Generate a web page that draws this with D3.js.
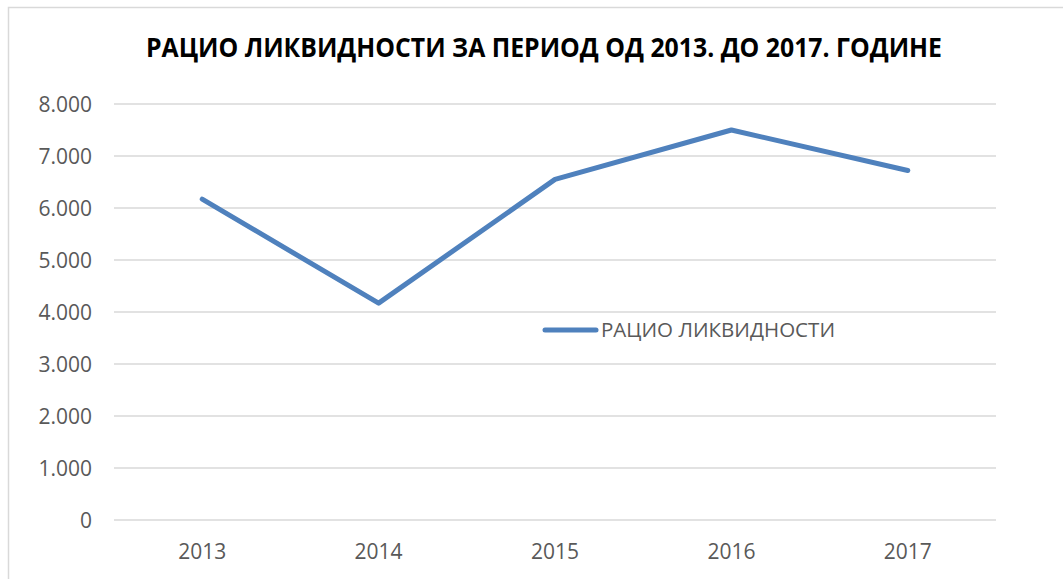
<!DOCTYPE html>
<html>
<head>
<meta charset="utf-8">
<script src="https://cdn.jsdelivr.net/npm/d3@7"></script>
<style>
  body { margin: 0; background: #fff; }
  svg { display: block; }
</style>
</head>
<body>
<svg id="chart" width="1063" height="579"></svg>
<script>
const years = ['2013', '2014', '2015', '2016', '2017']
const ratio = [6.17, 4.17, 6.55, 7.50, 6.72]
const yTicks = [0, 1, 2, 3, 4, 5, 6, 7, 8]
const title = 'РАЦИО ЛИКВИДНОСТИ ЗА ПЕРИОД ОД 2013. ДО 2017. ГОДИНЕ'
const seriesName = 'РАЦИО ЛИКВИДНОСТИ'

const svg = d3.select('#chart')
const font = '"Open Sans", "Noto Sans", sans-serif'
const titleFont = '"Liberation Sans Narrow", "Open Sans", sans-serif'
const m = { left: 114, right: 996, top: 104, bottom: 520 }

// рамка графика
svg.append('rect')
  .attr('x', 8.5).attr('y', 7.5)
  .attr('width', 1070).attr('height', 590)
  .attr('fill', '#fff').attr('stroke', '#d9d9d9').attr('stroke-width', 1.5)

const x = d3.scaleBand().domain(years).range([m.left, m.right])
const y = d3.scaleLinear().domain([0, 8]).range([m.bottom, m.top])

// мрежа
svg.append('g').selectAll('line').data(yTicks).join('line')
  .attr('x1', m.left).attr('x2', m.right)
  .attr('y1', d => y(d)).attr('y2', d => y(d))
  .attr('stroke', '#d9d9d9').attr('stroke-width', 1.3)

// ознаке на y оси
svg.append('g').selectAll('text').data(yTicks).join('text')
  .attr('x', 92).attr('y', d => y(d))
  .attr('dy', '0.36em')
  .attr('text-anchor', 'end')
  .attr('font-family', font).attr('font-size', 21)
  .attr('fill', '#595959')
  .text(d => d === 0 ? '0' : d3.format('.3f')(d))

// ознаке на x оси
svg.append('g').selectAll('text').data(years).join('text')
  .attr('x', d => x(d) + x.bandwidth() / 2).attr('y', 551)
  .attr('dy', '0.36em')
  .attr('text-anchor', 'middle')
  .attr('font-family', font).attr('font-size', 21)
  .attr('fill', '#595959')
  .text(d => d)

// линија
const line = d3.line()
  .x((d, i) => x(years[i]) + x.bandwidth() / 2)
  .y(d => y(d))
svg.append('path')
  .datum(ratio)
  .attr('d', line)
  .attr('fill', 'none')
  .attr('stroke', '#4f81bd')
  .attr('stroke-width', 5)
  .attr('stroke-linecap', 'round')
  .attr('stroke-linejoin', 'round')

// легенда
svg.append('line')
  .attr('x1', 545).attr('x2', 596).attr('y1', 330).attr('y2', 330)
  .attr('stroke', '#4f81bd').attr('stroke-width', 5).attr('stroke-linecap', 'round')
svg.append('text')
  .attr('x', 601).attr('y', 330).attr('dy', '0.36em')
  .attr('font-family', font).attr('font-size', 20.5)
  .attr('fill', '#595959')
  .attr('textLength', 234).attr('lengthAdjust', 'spacingAndGlyphs')
  .text(seriesName)

// наслов
svg.append('text')
  .attr('x', 544).attr('y', 48).attr('dy', '0.36em')
  .attr('text-anchor', 'middle')
  .attr('font-family', titleFont).attr('font-size', 26).attr('font-weight', 'bold')
  .attr('fill', '#000')
  .attr('textLength', 796).attr('lengthAdjust', 'spacingAndGlyphs')
  .text(title)
</script>
</body>
</html>
